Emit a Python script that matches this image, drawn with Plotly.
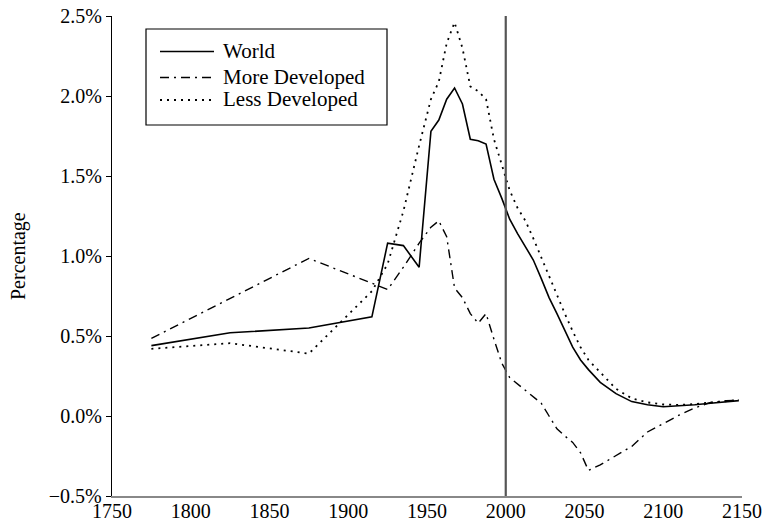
import plotly.graph_objects as go

years = [1775, 1825, 1875, 1915, 1925, 1935, 1945, 1952.5, 1957.5, 1962.5, 1967.5,
         1972.5, 1977.5, 1982.5, 1987.5, 1992.5, 1997.5, 2002.5, 2007.5, 2012.5,
         2017.5, 2022.5, 2027.5, 2032.5, 2037.5, 2042.5, 2047.5, 2052.5, 2060,
         2070, 2080, 2090, 2100, 2110, 2120, 2130, 2140, 2148]

world = [0.44, 0.52, 0.55, 0.62, 1.08, 1.065, 0.93, 1.78, 1.85, 1.98, 2.05,
         1.95, 1.73, 1.72, 1.70, 1.48, 1.36, 1.23, 1.14, 1.06,
         0.975, 0.86, 0.74, 0.64, 0.53, 0.43, 0.35, 0.29, 0.21,
         0.14, 0.09, 0.07, 0.058, 0.062, 0.07, 0.08, 0.09, 0.096]

more_dev = [0.485, 0.735, 0.985, 0.83, 0.79, 0.93, 1.08, 1.18, 1.22, 1.12, 0.80,
            0.74, 0.64, 0.58, 0.64, 0.48, 0.33, 0.24, 0.20, 0.165,
            0.125, 0.08, 0.0, -0.08, -0.125, -0.165, -0.23, -0.34, -0.305,
            -0.25, -0.19, -0.10, -0.045, 0.005, 0.05, 0.085, 0.095, 0.10]

less_dev = [0.42, 0.455, 0.39, 0.78, 0.95, 1.28, 1.69, 1.98, 2.09, 2.33, 2.46,
            2.30, 2.06, 2.03, 1.98, 1.73, 1.57, 1.41, 1.30, 1.22,
            1.11, 0.99, 0.87, 0.75, 0.64, 0.53, 0.43, 0.35, 0.27,
            0.17, 0.11, 0.085, 0.072, 0.069, 0.075, 0.085, 0.093, 0.10]

series_names = ["World", "More Developed", "Less Developed"]

x_ticks = [1750, 1800, 1850, 1900, 1950, 2000, 2050, 2100, 2150]
y_ticks = [-0.5, 0.0, 0.5, 1.0, 1.5, 2.0, 2.5]
y_tick_text = ["\u22120.5%", "0.0%", "0.5%", "1.0%", "1.5%", "2.0%", "2.5%"]
divider_year = 2000

FONT = "Liberation Serif"
FS = 21

styles = [
    dict(color="black", width=1.6),
    dict(color="black", width=1.4, dash="9px,5px,2px,5px"),
    dict(color="black", width=1.8, dash="2px,5px"),
]

fig = go.Figure()
for name, vals, st in zip(series_names, [world, more_dev, less_dev], styles):
    fig.add_trace(go.Scatter(x=years, y=vals, mode="lines", name=name,
                             line=st, showlegend=False, hoverinfo="skip"))

fig.add_shape(type="line", xref="x", yref="y", x0=divider_year, x1=divider_year,
              y0=-0.5, y1=2.5, line=dict(color="#555555", width=2.2))

FIG_W, FIG_H = 764, 529
# plot area in window pixels
L, T, W, H = 112, 16, 630, 480
def px(x):
    return (x - L) / W
def py(y):
    return (T + H - y) / H

# legend box
fig.add_shape(type="rect", xref="paper", yref="paper",
              x0=px(146), x1=px(387), y0=py(125), y1=py(29),
              line=dict(color="black", width=1.2), fillcolor="white", layer="above")
row_y = [51.5, 77.5, 100]
for name, st, ry in zip(series_names, styles, row_y):
    fig.add_shape(type="line", xref="paper", yref="paper",
                  x0=px(160), x1=px(214), y0=py(ry), y1=py(ry), line=st, layer="above")
    fig.add_annotation(xref="paper", yref="paper", x=px(221), y=py(ry - 1),
                       text=name, showarrow=False, xanchor="left", yanchor="middle",
                       font=dict(family=FONT, size=FS, color="black"))

fig.add_annotation(xref="paper", yref="paper", x=px(18), y=py(256), text="Percentage",
                   textangle=-90, showarrow=False, xanchor="center", yanchor="middle",
                   font=dict(family=FONT, size=20, color="black"))

fig.update_layout(
    width=FIG_W, height=FIG_H,
    margin=dict(l=L, r=FIG_W - L - W, t=T, b=FIG_H - T - H),
    paper_bgcolor="white", plot_bgcolor="white",
    font=dict(family=FONT, size=FS, color="black"),
    showlegend=False,
    xaxis=dict(range=[1750, 2150], tickvals=x_ticks, showgrid=False, zeroline=False,
               showline=True, linecolor="#888888", linewidth=2, ticks="",
               automargin=False, ticklabeloverflow="allow", ticklabelstandoff=-4,
               tickfont=dict(family=FONT, size=20)),
    yaxis=dict(range=[-0.5, 2.5], tickvals=y_ticks, ticktext=y_tick_text,
               showgrid=False, zeroline=False, showline=True, linecolor="black",
               linewidth=1.2, ticks="outside", ticklen=5, tickcolor="black",
               automargin=False, ticklabeloverflow="allow",
               tickfont=dict(family=FONT, size=20)),
)

fig.write_html(
    "out.html",
    config={"displayModeBar": False, "staticPlot": True},
    post_script="document.body.style.margin='0';document.body.style.overflow='hidden';",
)
